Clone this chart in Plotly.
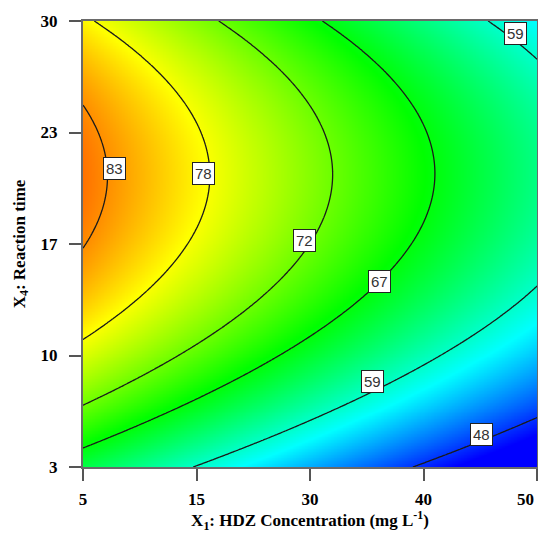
import numpy as np
import plotly.graph_objects as go

# ---- data ----
# points on each contour line (X1 in mg/L, X4 reaction time), with the contour value
line_x = [5, 5, 8.05,
          5.86, 9.43, 16.97, 13.30, 5,
          18.36, 29.57, 27.0, 25.31, 23.53, 5,
          29.47, 40.59, 36.52, 34.43, 23.32, 5,
          16.28, 23.32, 33.74, 41.18, 50,
          44.84, 50,
          38.70, 44.45, 50]
line_y = [25.51, 15.96, 20.55,
          30, 28.23, 20.55, 15.23, 11.0,
          30, 20.79, 16.74, 14.93, 12.93, 6.89,
          30, 20.79, 14.93, 14.32, 9.18, 4.04,
          3, 4.77, 8.15, 10.21, 13.84,
          30, 27.50,
          3, 4.95, 5.74]
line_level = [83, 83, 83,
              78, 78, 78, 78, 78,
              72, 72, 72, 72, 72, 72,
              67, 67, 67, 67, 67, 67,
              59, 59, 59, 59, 59,
              59, 59,
              48, 48, 48]

contour_levels = [48, 59, 67, 72, 78, 83]
label_text = ["83", "78", "72", "67", "59", "48", "59"]
label_x = [8.15, 16.97, 27.0, 34.43, 33.74, 44.45, 47.83]
label_y = [21.09, 20.79, 16.74, 14.26, 8.15, 4.95, 29.26]

x_tickvals = [5, 16.25, 27.5, 38.75, 50]
x_ticktext = ["5", "15", "30", "40", ""]
x_last_label = "50"   # drawn right-aligned at the axis end, as in the reference
y_tickvals = [3, 9.75, 16.5, 23.25, 30]
y_ticktext = ["3", "10", "17", "23", "30"]

x_range = [5, 50]
y_range = [3, 30]

# ---- quadratic response surface fitted to the contour readings ----
def coded(x, y):
    return (np.asarray(x) - 27.5) / 22.5, (np.asarray(y) - 16.5) / 13.5

def design(a, b):
    return np.stack([np.ones_like(a), a, b, a * b, a * a, b * b], axis=-1)

A, B = coded(line_x, line_y)
coef, *_ = np.linalg.lstsq(design(A, B), np.array(line_level, float), rcond=None)

xs = np.linspace(x_range[0], x_range[1], 301)
ys = np.linspace(y_range[0], y_range[1], 301)
XX, YY = np.meshgrid(xs, ys)
AA, BB = coded(XX, YY)
Z = design(AA, BB) @ coef

colorscale = [[0.0, "#0000ff"], [0.25, "#00ffff"], [0.5, "#00ff00"],
              [0.75, "#ffff00"], [1.0, "#ff0000"]]

fig = go.Figure()
fig.add_trace(go.Heatmap(x=xs, y=ys, z=Z, zmin=46, zmax=89, colorscale=colorscale,
                         zsmooth="best", showscale=False, hoverinfo="skip"))
for lv in contour_levels:
    fig.add_trace(go.Contour(x=xs, y=ys, z=Z, showscale=False, hoverinfo="skip",
                             contours=dict(start=lv, end=lv, size=1, coloring="none"),
                             line=dict(color="#1a1a1a", width=1.3)))

for t, lx, ly in zip(label_text, label_x, label_y):
    fig.add_annotation(x=lx, y=ly, text=t, showarrow=False, bgcolor="white",
                       bordercolor="#222", borderwidth=1, borderpad=2,
                       font=dict(family="Liberation Sans, Arial", size=15, color="#333"))

serif = "Liberation Serif, Times New Roman, serif"
tick_font = dict(family=serif, size=17, color="black", weight="bold")

fig.add_annotation(x=x_range[1], y=0, xref="x", yref="paper", text=x_last_label,
                   showarrow=False, xanchor="right", yanchor="middle", yshift=-32,
                   xshift=-1, font=tick_font)

fig.update_xaxes(range=x_range, tickvals=x_tickvals, ticktext=x_ticktext,
                 ticks="outside", ticklen=12, tickwidth=2, tickcolor="#555",
                 showline=True, linecolor="#6a6a6a", linewidth=2, mirror=True,
                 showgrid=False, zeroline=False, automargin=False, ticklabelstandoff=4,
                 tickfont=tick_font,
                 title=dict(text="X<sub>1</sub>: HDZ Concentration (mg L<sup>-1</sup>)",
                            font=dict(family=serif, size=17, color="black", weight="bold"),
                            standoff=8))
fig.update_yaxes(range=y_range, tickvals=y_tickvals, ticktext=y_ticktext,
                 ticks="outside", ticklen=12, tickwidth=2, tickcolor="#555",
                 showline=True, linecolor="#6a6a6a", linewidth=2, mirror=True,
                 showgrid=False, zeroline=False, automargin=False, ticklabelstandoff=8,
                 tickfont=tick_font,
                 title=dict(text="X<sub>4</sub>: Reaction time",
                            font=dict(family=serif, size=17, color="black", weight="bold"),
                            standoff=11))
fig.update_layout(width=538, height=533, margin=dict(l=83, r=1, t=21, b=66),
                  paper_bgcolor="white", plot_bgcolor="white", showlegend=False)
fig.write_html("out.html", config={"displayModeBar": False},
               post_script="document.body.style.margin='0';")
